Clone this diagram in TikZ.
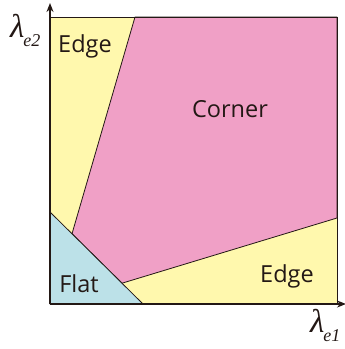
\documentclass[tikz,border=0pt]{standalone}
\usepackage{fontspec}
\setmainfont{Open Sans}
\newfontfamily\lamfont{Liberation Serif}
\usetikzlibrary{arrows.meta}
\definecolor{edgeyellow}{HTML}{FFF8AD}
\definecolor{cornerpink}{HTML}{F0A0C6}
\definecolor{flatblue}{HTML}{BCE1E8}
\definecolor{ink}{HTML}{231815}
\begin{document}
\begin{tikzpicture}[x=1pt,y=-1pt,
  region/.style={draw=ink,line width=0.8pt,line join=round},
  lbl/.style={text=ink,font=\fontsize{23.5}{26}\selectfont,inner sep=0pt},
  axislbl/.style={text=ink,inner sep=0pt,anchor=base west,font=\fontsize{33}{35}\selectfont},
  axis/.style={draw=ink,line width=1.5pt,-{Stealth[length=9pt,width=7pt]}}]
\useasboundingbox (0,0) rectangle (345,349);
% corner points
\coordinate (O) at (50,304);
\coordinate (TL) at (50,17);
\coordinate (TR) at (337,17);
\coordinate (BR) at (337,304);
\coordinate (F1) at (50,212);
\coordinate (F2) at (143,304);
\coordinate (C1) at (135,17);
\coordinate (C2) at (337,218);
\coordinate (C3) at (122,283.2);
\coordinate (C4) at (72,233.8);
% regions
\fill[edgeyellow] (TL) rectangle (BR);
\filldraw[region,fill=cornerpink] (C1) -- (TR) -- (C2) -- (C3) -- (C4) -- cycle;
\filldraw[region,fill=flatblue] (O) -- (F1) -- (F2) -- cycle;
\draw[draw=ink,line width=0.8pt] (TL) -- (TR) -- (BR);
% axes
\coordinate (XE) at (346,304);
\coordinate (YE) at (50,3);
\draw[axis] (O) -- (XE);
\draw[axis] (O) -- (YE);
% labels
\node[lbl] (e1) at (85,46) {Edge};
\node[lbl] (c) at (230,109) {Corner};
\node[lbl] (f) at (79,284) {Flat};
\node[lbl] (e2) at (287,276) {Edge};
\node[axislbl] (ly) at (10,37) {\lamfont\itshape λ\kern-1pt\raisebox{-9pt}{\fontsize{18}{20}\selectfont e2}};
\node[axislbl] (lx) at (310,332) {\lamfont\itshape λ\kern-1pt\raisebox{-9pt}{\fontsize{18}{20}\selectfont e1}};
\end{tikzpicture}
\end{document}
